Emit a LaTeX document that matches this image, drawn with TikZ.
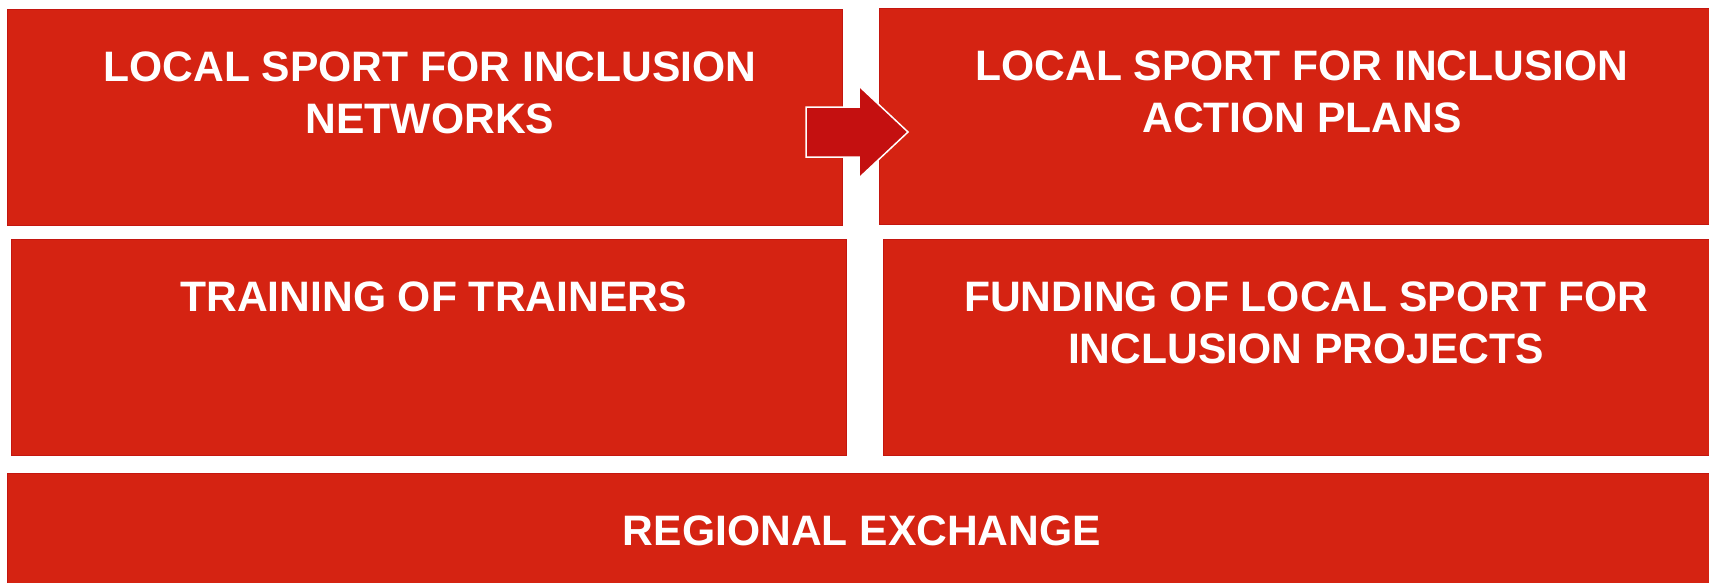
\documentclass[tikz,border=0pt]{standalone}
\usepackage{fontspec}
\setmainfont{Liberation Sans}
\definecolor{boxred}{HTML}{D52312}
\definecolor{boxedge}{HTML}{C4160F}
\definecolor{arrowred}{HTML}{C41010}
\begin{document}
\begin{tikzpicture}[x=1pt,y=-1pt,
  box/.style={draw=boxedge, line width=1pt, fill=boxred, inner sep=0pt,
    minimum width=835pt, minimum height=216pt, anchor=north west},
  lbl/.style={text=white, font=\fontsize{42.6}{51.5}\selectfont\bfseries,
    align=center, inner sep=0pt, anchor=north},
  blockarrow/.style={fill=arrowred, draw=white, line width=1.5pt, line join=miter}]
\useasboundingbox (0,0) rectangle (1709,582);
\clip (0,0) rectangle (1709,582);
\fill[white] (0,0) rectangle (1709,582);
\node[box] (b1) at (7,9) {};
\node[box] (b2) at (879,8) {};
\node[box] (b3) at (11,239) {};
\node[box] (b4) at (883,239) {};
\node[box, minimum width=1710pt] (b5) at (7,473) {};
\node[lbl] (t1) at (430,52) {LOCAL SPORT FOR INCLUSION\\NETWORKS};
\node[lbl] (t2) at (1302,51) {LOCAL SPORT FOR INCLUSION\\ACTION PLANS};
\node[lbl] (t3) at (433.5,282) {TRAINING OF TRAINERS};
\node[lbl] (t4) at (1306,282) {FUNDING OF LOCAL SPORT FOR\\INCLUSION PROJECTS};
\node[lbl] (t5) at (862,516) {REGIONAL EXCHANGE};
\draw[blockarrow] (806,107) -- (859,107) -- (859,86) -- (908,132) -- (859,178)
  -- (859,157) -- (806,157) -- cycle;
\end{tikzpicture}
\end{document}
